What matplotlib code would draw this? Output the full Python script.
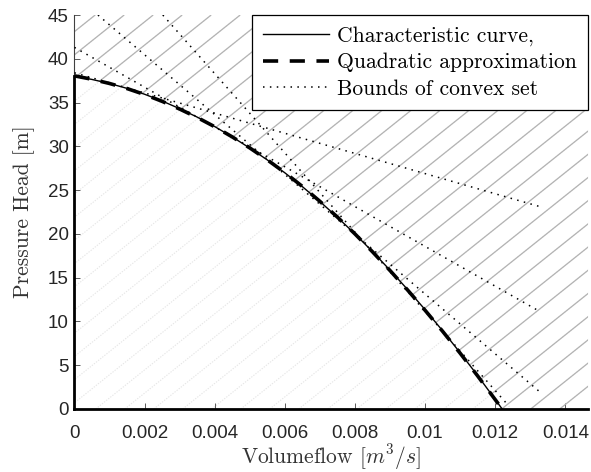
import numpy as np
import matplotlib
matplotlib.use('Agg')
import matplotlib.pyplot as plt
from matplotlib.patches import Polygon
from matplotlib.collections import LineCollection
from matplotlib.lines import Line2D

plt.rcParams['mathtext.fontset'] = 'cm'
plt.rcParams['axes.formatter.use_mathtext'] = True

# characteristic curve of the pump
flow = [0, 0.0005, 0.001, 0.0015, 0.002, 0.0025, 0.003, 0.0035, 0.004,
        0.0045, 0.005, 0.0055, 0.006, 0.0065, 0.007, 0.0075, 0.008,
        0.0085, 0.009, 0.0095, 0.010, 0.0105, 0.011, 0.0115, 0.012, 0.0122]
head = [38.00, 37.64, 37.18, 36.62, 35.95, 35.18, 34.30, 33.34, 32.26,
        31.08, 29.80, 28.45, 26.98, 25.40, 23.70, 21.90, 20.00,
        17.98, 15.86, 13.66, 11.35, 8.94, 6.43, 3.82, 1.10, 0.00]
# quadratic approximation on the same flow grid
quad_head = [38.05, 37.66, 37.18, 36.60, 35.92, 35.14, 34.26, 33.30, 32.24,
             31.08, 29.82, 28.46, 27.00, 25.42, 23.72, 21.92, 20.00,
             17.96, 15.82, 13.60, 11.28, 8.88, 6.38, 3.78, 1.08, 0.00]

# bounds of the convex set (tangent lines): start and end points
bound_q0 = [0.0, 0.0, 0.00067, 0.00252]
bound_h0 = [38.4, 41.3, 45.0, 45.0]
bound_q1 = [0.01329, 0.01329, 0.01329, 0.01240]
bound_h1 = [23.1, 11.1, 1.9, 0.3]

xticks = [0, 0.002, 0.004, 0.006, 0.008, 0.010, 0.012, 0.014]
xtick_labels = ['0', '0.002', '0.004', '0.006', '0.008', '0.01', '0.012', '0.014']
yticks = [0, 5, 10, 15, 20, 25, 30, 35, 40, 45]
ytick_labels = [str(v) for v in yticks]

xmax, ymax = 0.01465, 45

fig = plt.figure(figsize=(5.91, 4.72), dpi=100)
ax = fig.add_axes([0.126, 0.1335, 0.869, 0.8347])
ax.set_xlim(0, xmax)
ax.set_ylim(0, ymax)

# hatch lines, built in axes pixel space
pos = ax.get_position()
W = pos.width * 591
Hp = pos.height * 472
slope, step = 0.8, 29.0
c0 = 512.5 - 277 / slope
cs = np.arange(c0 - 40 * step, W + step, step)
segs = []
for c in cs:
    x0, x1 = c, c + Hp / slope
    segs.append([(x0 / W, 0), (x1 / W, 1)])

faint = LineCollection(segs, colors='#e6e6e6', linewidths=0.8,
                       linestyles=[(0, (1.2, 1.2))], transform=ax.transAxes,
                       zorder=1)
ax.add_collection(faint)

region = Polygon(list(zip(flow, head)) + [(xmax, 0), (xmax, ymax), (0, ymax)],
                 closed=True, transform=ax.transData)
hatch = LineCollection(segs, colors='#b3b3b3', linewidths=0.9,
                       transform=ax.transAxes, zorder=2)
hatch.set_clip_path(region)
ax.add_collection(hatch)

# bounds of convex set
for q0, h0, q1, h1 in zip(bound_q0, bound_h0, bound_q1, bound_h1):
    ax.plot([q0, q1], [h0, h1], color='black', lw=1.1,
            linestyle=(0, (1, 3.5)), zorder=3)

ax.plot(flow, head, color='black', lw=1.0, zorder=4)
ax.plot(flow, quad_head, color='black', lw=2.6,
        linestyle=(0, (4.2, 3.2)), zorder=5)
ax.plot([0, 0], [0, head[0]], color='black', lw=2.0, zorder=5, clip_on=False)

for s in ['top', 'right']:
    ax.spines[s].set_visible(False)
ax.spines['left'].set_color('#404040')
ax.spines['left'].set_linewidth(0.8)
ax.spines['bottom'].set_color('black')
ax.spines['bottom'].set_linewidth(2.0)
ax.spines['bottom'].set_zorder(6)

ax.set_xticks(xticks)
ax.set_xticklabels(xtick_labels)
ax.set_yticks(yticks)
ax.set_yticklabels(ytick_labels)
ax.tick_params(direction='in', length=4, width=0.6, color='#404040',
               labelsize=13.5, labelcolor='#262626')
ax.tick_params(axis='x', pad=11.5)
ax.tick_params(axis='y', pad=4)
for lab in ax.get_xticklabels() + ax.get_yticklabels():
    lab.set_family('Liberation Sans')

ax.set_xlabel('Volumeflow $[m^3/s]$', family='cmr10', fontsize=15.5,
              color='#333333', labelpad=0)
ax.set_ylabel('Pressure Head [m]', family='cmr10', fontsize=15.5,
              color='#333333', labelpad=9)

handles = [Line2D([], [], color='black', lw=1.0),
           Line2D([], [], color='black', lw=2.6, linestyle=(0, (4.2, 3.2))),
           Line2D([], [], color='black', lw=1.1, linestyle=(0, (1, 3.5)))]
labels = ['Characteristic curve,', 'Quadratic approximation',
          'Bounds of convex set']
leg = ax.legend(handles, labels, loc='upper right', borderaxespad=0,
                fancybox=False, framealpha=1, edgecolor='black',
                prop={'family': 'cmr10', 'size': 15.5}, handlelength=3.1,
                handletextpad=0.37, labelspacing=0.33, borderpad=0.5)
leg.get_frame().set_linewidth(0.9)
leg.set_zorder(10)

fig.savefig('out.png', dpi=100)
